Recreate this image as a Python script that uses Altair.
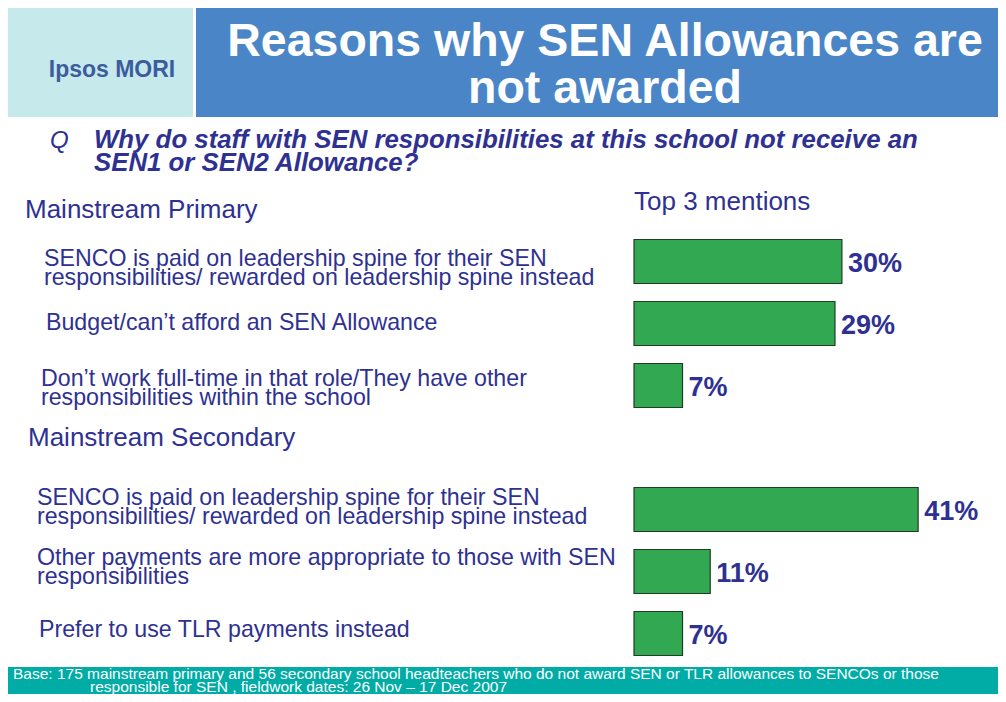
import altair as alt
import pandas as pd

# ---------------- data ----------------
title_lines = ["Reasons why SEN Allowances are", "not awarded"]
brand = "Ipsos MORI"
question_q = "Q"
question_lines = [
    "Why do staff with SEN responsibilities at this school not receive an",
    "SEN1 or SEN2 Allowance?",
]
groups = ["Mainstream Primary", "Mainstream Secondary"]
measure_label = "Top 3 mentions"
row_ids = ["p1", "p2", "p3", "s1", "s2", "s3"]
row_groups = ["Mainstream Primary"] * 3 + ["Mainstream Secondary"] * 3
reasons = [
    "SENCO is paid on leadership spine for their SEN\nresponsibilities/ rewarded on leadership spine instead",
    "Budget/can\u2019t afford an SEN Allowance",
    "Don\u2019t work full-time in that role/They have other\nresponsibilities within the school",
    "SENCO is paid on leadership spine for their SEN\nresponsibilities/ rewarded on leadership spine instead",
    "Other payments are more appropriate to those with SEN\nresponsibilities",
    "Prefer to use TLR payments instead",
]
values = [30, 29, 7, 41, 11, 7]
footer_lines = [
    "Base:  175 mainstream primary and 56 secondary school headteachers who do not award SEN or TLR allowances to SENCOs or those",
    "responsible for SEN , fieldwork dates: 26 Nov \u2013 17 Dec 2007",
]

# ---------------- layout / style ----------------
FONT = "Arial, Liberation Sans, sans-serif"
NAVY = "#2e3192"
BLUE = "#4a86c7"
CYAN = "#c6e9ec"
TEAL = "#00aca5"
GREEN = "#33a852"
W, H = 990, 686
y_domain = ["p1", "p2", "p3", "gap", "s1", "s2", "s3"]
label_x = [36, 38, 33, 29, 29, 31]
label_dy = [-3, -1, -7, -12, -14, -4]

df = pd.DataFrame({"id": row_ids, "group": row_groups, "reason": reasons, "value": values})
one = pd.DataFrame({"k": [0]})

yscale = alt.Scale(domain=y_domain, range=[222.5, 656.5], paddingInner=0.29, paddingOuter=0.145)
xscale = alt.Scale(domain=[0, 100], range=[626, 1319])
Y = alt.Y("id:N", scale=yscale, axis=None)
X = alt.X("value:Q", scale=xscale, axis=None)


def rect(x1, x2, y1, y2, color):
    return alt.Chart(one).mark_rect(color=color).encode(
        x=alt.value(x1), x2=alt.value(x2), y=alt.value(y1), y2=alt.value(y2)
    )


def txt(s, x, y, size, color=NAVY, weight="normal", style="normal", align="left", baseline="alphabetic"):
    return alt.Chart(one).mark_text(
        font=FONT, fontSize=size, color=color, fontWeight=weight, fontStyle=style,
        align=align, baseline=baseline
    ).encode(x=alt.value(x), y=alt.value(y), text=alt.value(s))


layers = [
    rect(0, 185, 0, 109, CYAN),
    rect(188, W, 0, 109, BLUE),
    txt(brand, 104, 69, 23, color="#3d5c9e", weight="bold", align="center"),
    txt(title_lines[0], 597, 48, 46.5, color="white", weight="bold", align="center"),
    txt(title_lines[1], 597, 95, 46.5, color="white", weight="bold", align="center"),
    txt(question_q, 42, 140, 24, style="italic"),
    txt(question_lines[0], 86, 140, 25.8, weight="bold", style="italic"),
    txt(question_lines[1], 86, 163, 25.8, weight="bold", style="italic"),
    txt(groups[0], 17, 210, 26),
    txt(measure_label, 626, 202, 26),
    txt(groups[1], 20, 438, 26),
]

bars = alt.Chart(df).mark_bar(color=GREEN, stroke="#1f3d22", strokeWidth=1.2).encode(x=X, y=Y)
pct = alt.Chart(df).transform_calculate(lab="datum.value + '%'").mark_text(
    font=FONT, fontSize=27, fontWeight="bold", color=NAVY, align="left", baseline="middle", dx=6, dy=2
).encode(x=X, y=Y, text="lab:N")
layers += [bars, pct]

for i, rid in enumerate(row_ids):
    layers.append(
        alt.Chart(df).transform_filter(alt.datum.id == rid).mark_text(
            font=FONT, fontSize=23.2, color=NAVY, align="left", baseline="middle",
            lineBreak="\n", lineHeight=19, dy=label_dy[i]
        ).encode(x=alt.value(label_x[i]), y=Y, text="reason:N")
    )

layers += [
    rect(0, W, 659, H, TEAL),
    txt(footer_lines[0], 5, 671, 15.5, color="white"),
    txt(footer_lines[1], 82, 684, 15.5, color="white"),
]

chart = alt.layer(*layers).properties(
    width=W, height=H, padding=0, autosize=alt.AutoSizeParams(type="none")
).configure_view(stroke=None)

chart.save("out.html", embed_options={"renderer": "svg", "actions": False})
